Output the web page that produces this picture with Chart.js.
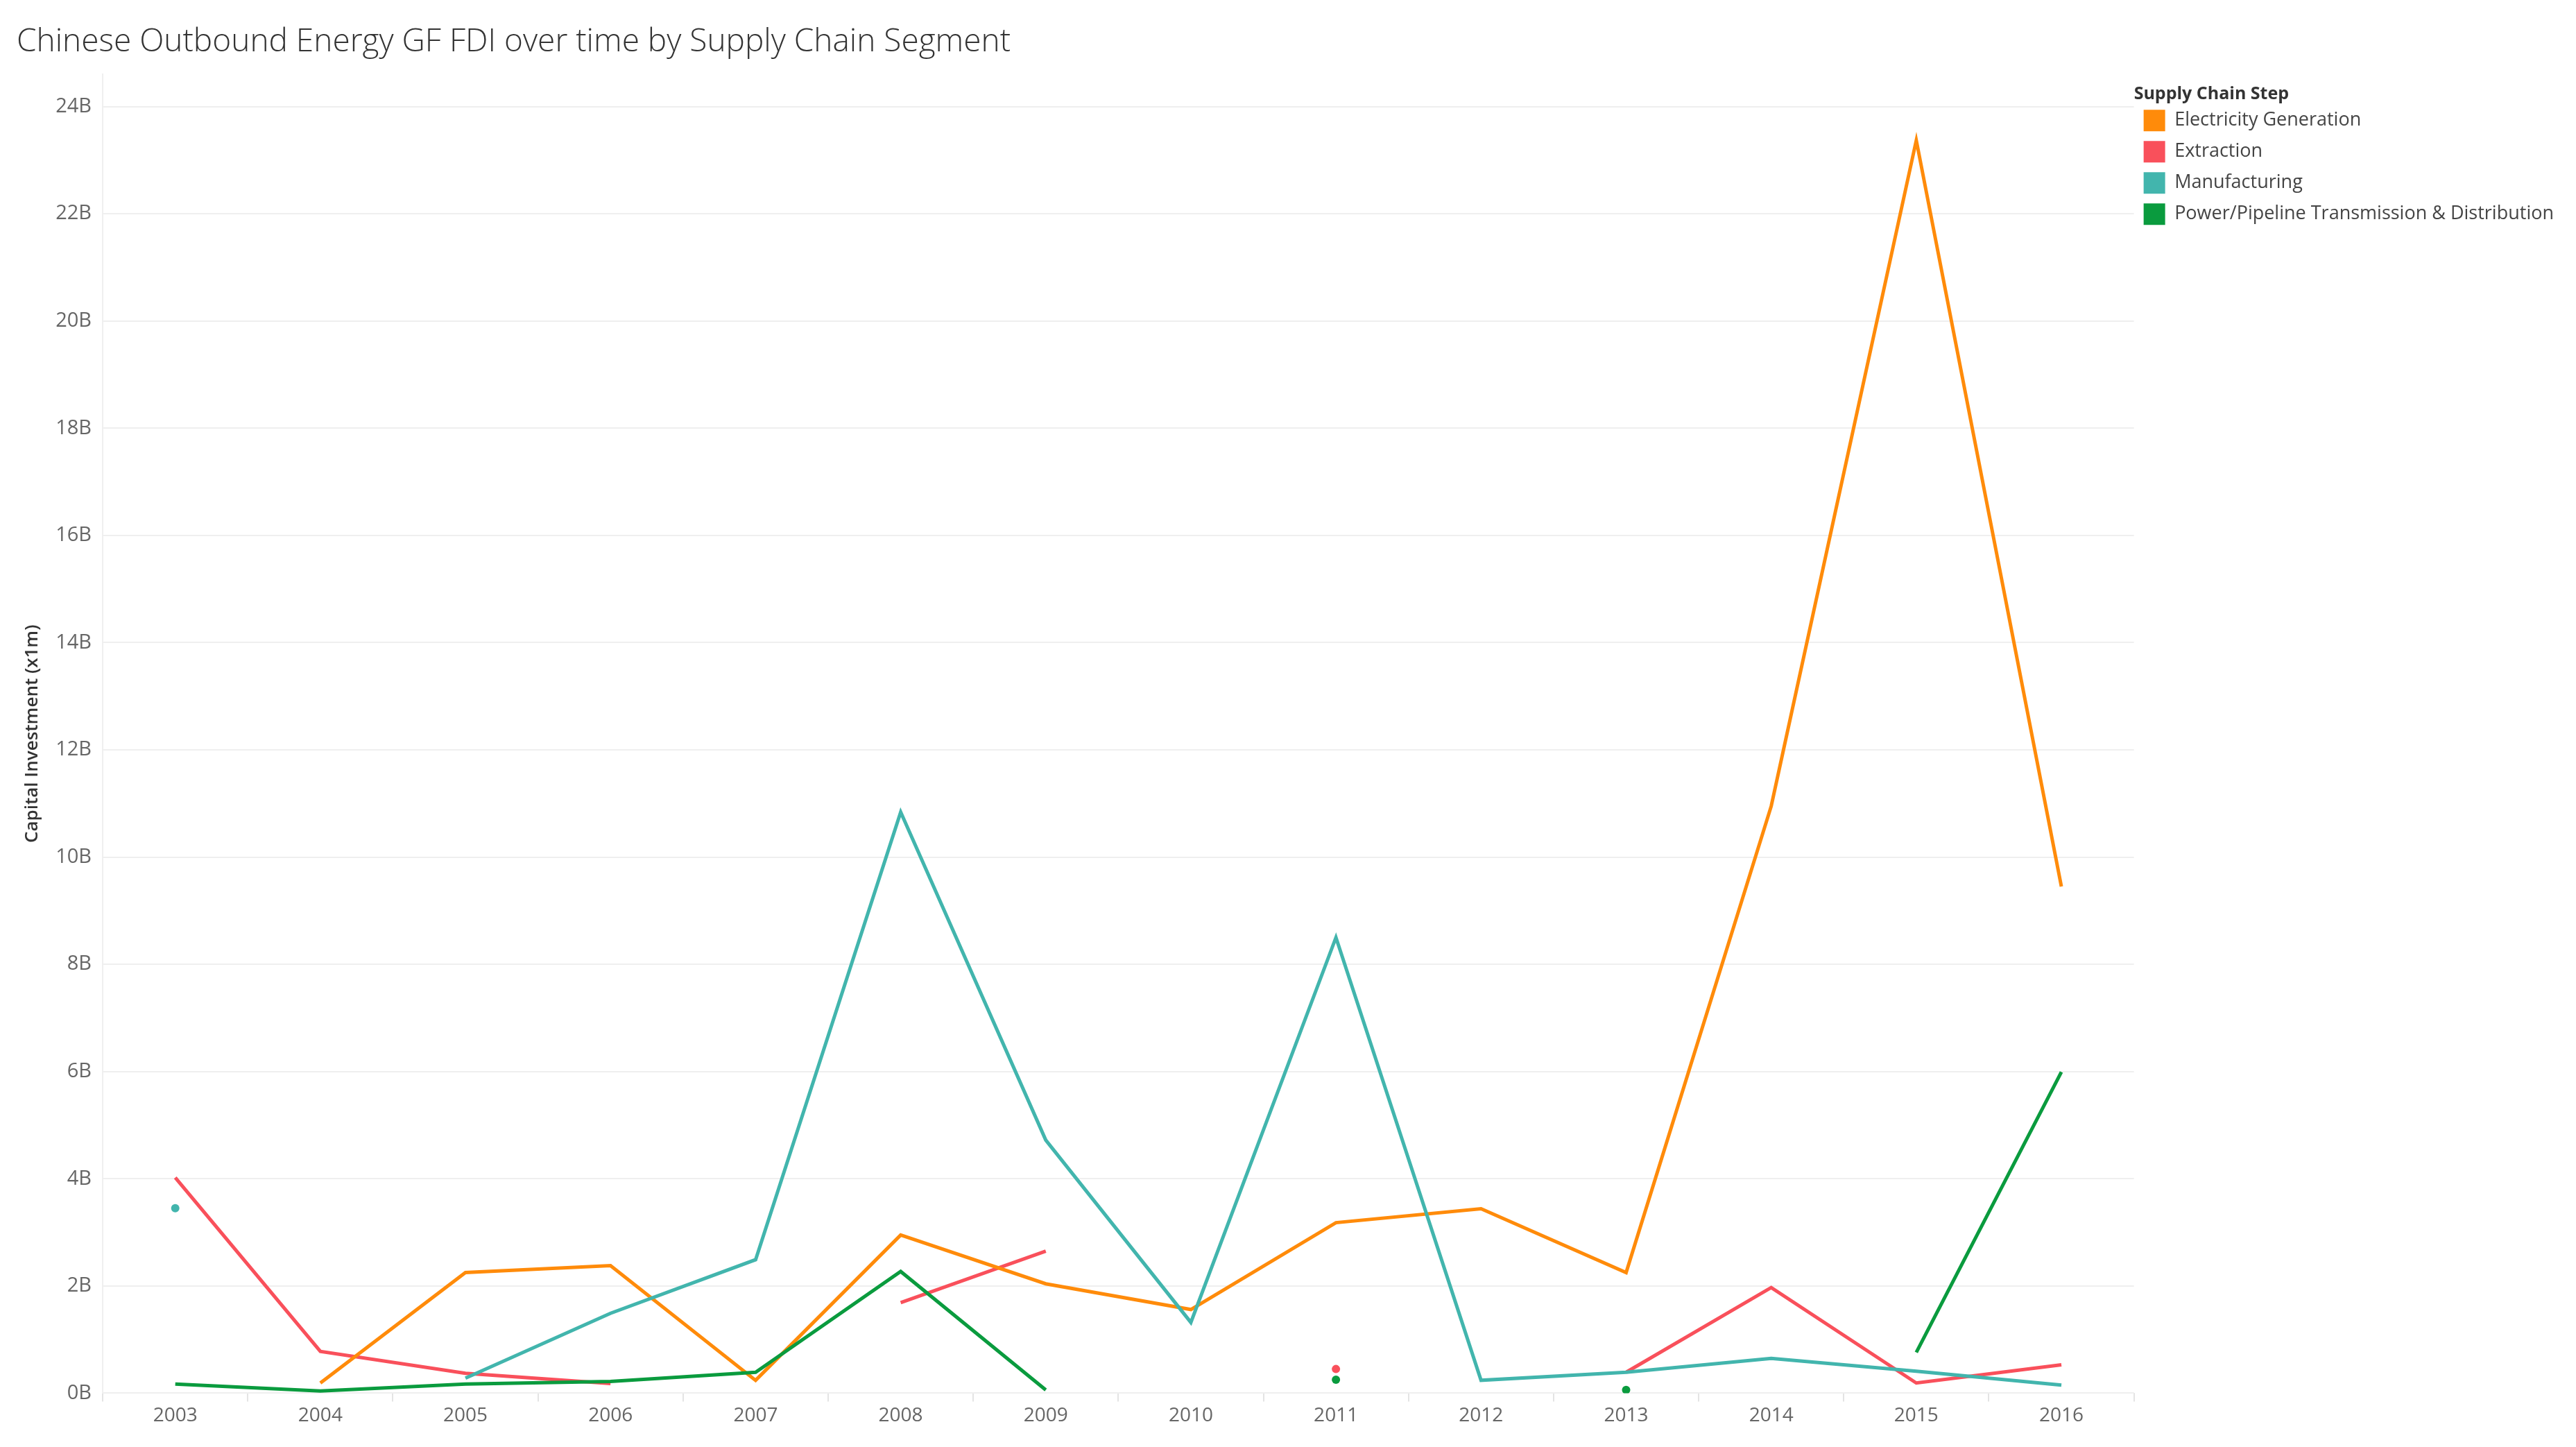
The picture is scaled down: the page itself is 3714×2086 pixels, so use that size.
<!DOCTYPE html>
<html>
<head>
<meta charset="utf-8">
<script src="https://cdn.jsdelivr.net/npm/chart.js@4/dist/chart.umd.min.js"></script>
<style>
  html, body { margin: 0; padding: 0; background: #ffffff; }
  #wrap { width: 3714px; height: 2086px; position: relative; }
</style>
</head>
<body>
<div id="wrap"><canvas id="c"></canvas></div>
<script>
const years = ['2003','2004','2005','2006','2007','2008','2009','2010','2011','2012','2013','2014','2015','2016'];
const electricityGeneration = [null, 0.19, 2.25, 2.38, 0.24, 2.95, 2.04, 1.56, 3.18, 3.44, 2.25, 10.95, 23.37, 9.45];
const extraction = [4.02, 0.78, 0.37, 0.18, null, 1.69, 2.65, null, 0.45, null, 0.39, 1.97, 0.19, 0.53];
const manufacturing = [3.45, null, 0.28, 1.49, 2.49, 10.84, 4.72, 1.32, 8.50, 0.24, 0.39, 0.65, 0.41, 0.15];
const powerPipeline = [0.17, 0.04, 0.17, 0.22, 0.39, 2.27, 0.06, null, 0.25, null, 0.06, null, 0.76, 5.99];
const yTicks = [0, 2, 4, 6, 8, 10, 12, 14, 16, 18, 20, 22, 24];

const seriesNames = ['Electricity Generation', 'Extraction', 'Manufacturing', 'Power/Pipeline Transmission & Distribution'];
const seriesColors = ['#FF8B0A', '#F9505B', '#42B5AD', '#0A9B3E'];
const seriesData = [electricityGeneration, extraction, manufacturing, powerPipeline];

function isolatedRadius(ctx) {
  const d = ctx.dataset.data;
  const i = ctx.dataIndex;
  if (d[i] === null || d[i] === undefined) return 0;
  const prev = i > 0 ? d[i - 1] : null;
  const next = i < d.length - 1 ? d[i + 1] : null;
  return (prev === null && next === null) ? 6 : 0;
}

const datasets = seriesNames.map((name, k) => ({
  label: name,
  data: seriesData[k],
  borderColor: seriesColors[k],
  backgroundColor: seriesColors[k],
  pointBackgroundColor: seriesColors[k],
  pointBorderWidth: 0,
  borderWidth: 5,
  pointRadius: isolatedRadius,
  pointHoverRadius: isolatedRadius,
  tension: 0,
  spanGaps: false,
  order: [2, 3, 1, 0][k]
}));

const FONT = "'Open Sans', 'DejaVu Sans', sans-serif";

new Chart(document.getElementById('c'), {
  type: 'line',
  data: { labels: years, datasets: datasets },
  options: {
    responsive: true,
    maintainAspectRatio: false,
    animation: false,
    devicePixelRatio: 1,
    layout: { padding: { left: 24, right: 22, top: 0, bottom: 24 } },
    plugins: {
      tooltip: { enabled: false },
      title: {
        display: true,
        text: 'Chinese Outbound Energy GF FDI over time by Supply Chain Segment',
        align: 'start',
        color: '#333333',
        font: { family: FONT, size: 46, weight: '300' },
        padding: { top: 33, bottom: 19 }
      },
      legend: {
        display: true,
        position: 'right',
        align: 'start',
        title: {
          display: true,
          position: 'start',
          text: 'Supply Chain Step',
          color: '#333333',
          font: { family: FONT, size: 25, weight: 'bold', lineHeight: 0.85 },
          padding: { top: 123, bottom: 0 }
        },
        labels: {
          color: '#444444',
          font: { family: FONT, size: 27 },
          boxWidth: 31,
          boxHeight: 31,
          padding: 14,
          sort: function (a, b) { return a.datasetIndex - b.datasetIndex; },
          generateLabels: function (chart) {
            const items = Chart.defaults.plugins.legend.labels.generateLabels(chart);
            items.forEach(it => { it.lineWidth = 0; it.strokeStyle = 'rgba(0,0,0,0)'; });
            return items;
          }
        }
      }
    },
    scales: {
      x: {
        type: 'category',
        offset: true,
        grid: {
          display: true,
          offset: true,
          drawOnChartArea: false,
          drawTicks: true,
          tickLength: 12,
          color: '#e4e4e4',
          lineWidth: 2
        },
        border: { display: false },
        ticks: {
          color: '#666666',
          font: { family: FONT, size: 28 },
          padding: 4,
          maxRotation: 0,
          autoSkip: false
        }
      },
      y: {
        type: 'linear',
        min: 0,
        max: 24.6,
        afterBuildTicks: function (scale) {
          scale.ticks = yTicks.map(v => ({ value: v }));
        },
        grid: {
          display: true,
          drawTicks: false,
          color: '#efefef',
          lineWidth: 2
        },
        border: { display: true, color: '#efefef', width: 2 },
        ticks: {
          color: '#666666',
          font: { family: FONT, size: 29 },
          padding: 16,
          callback: function (v) { return v + 'B'; }
        },
        title: {
          display: true,
          text: 'Capital Investment (x1m)',
          color: '#333333',
          font: { family: FONT, size: 26, weight: '600' },
          padding: { top: 7, bottom: 2 }
        }
      }
    }
  }
});
</script>
</body>
</html>
